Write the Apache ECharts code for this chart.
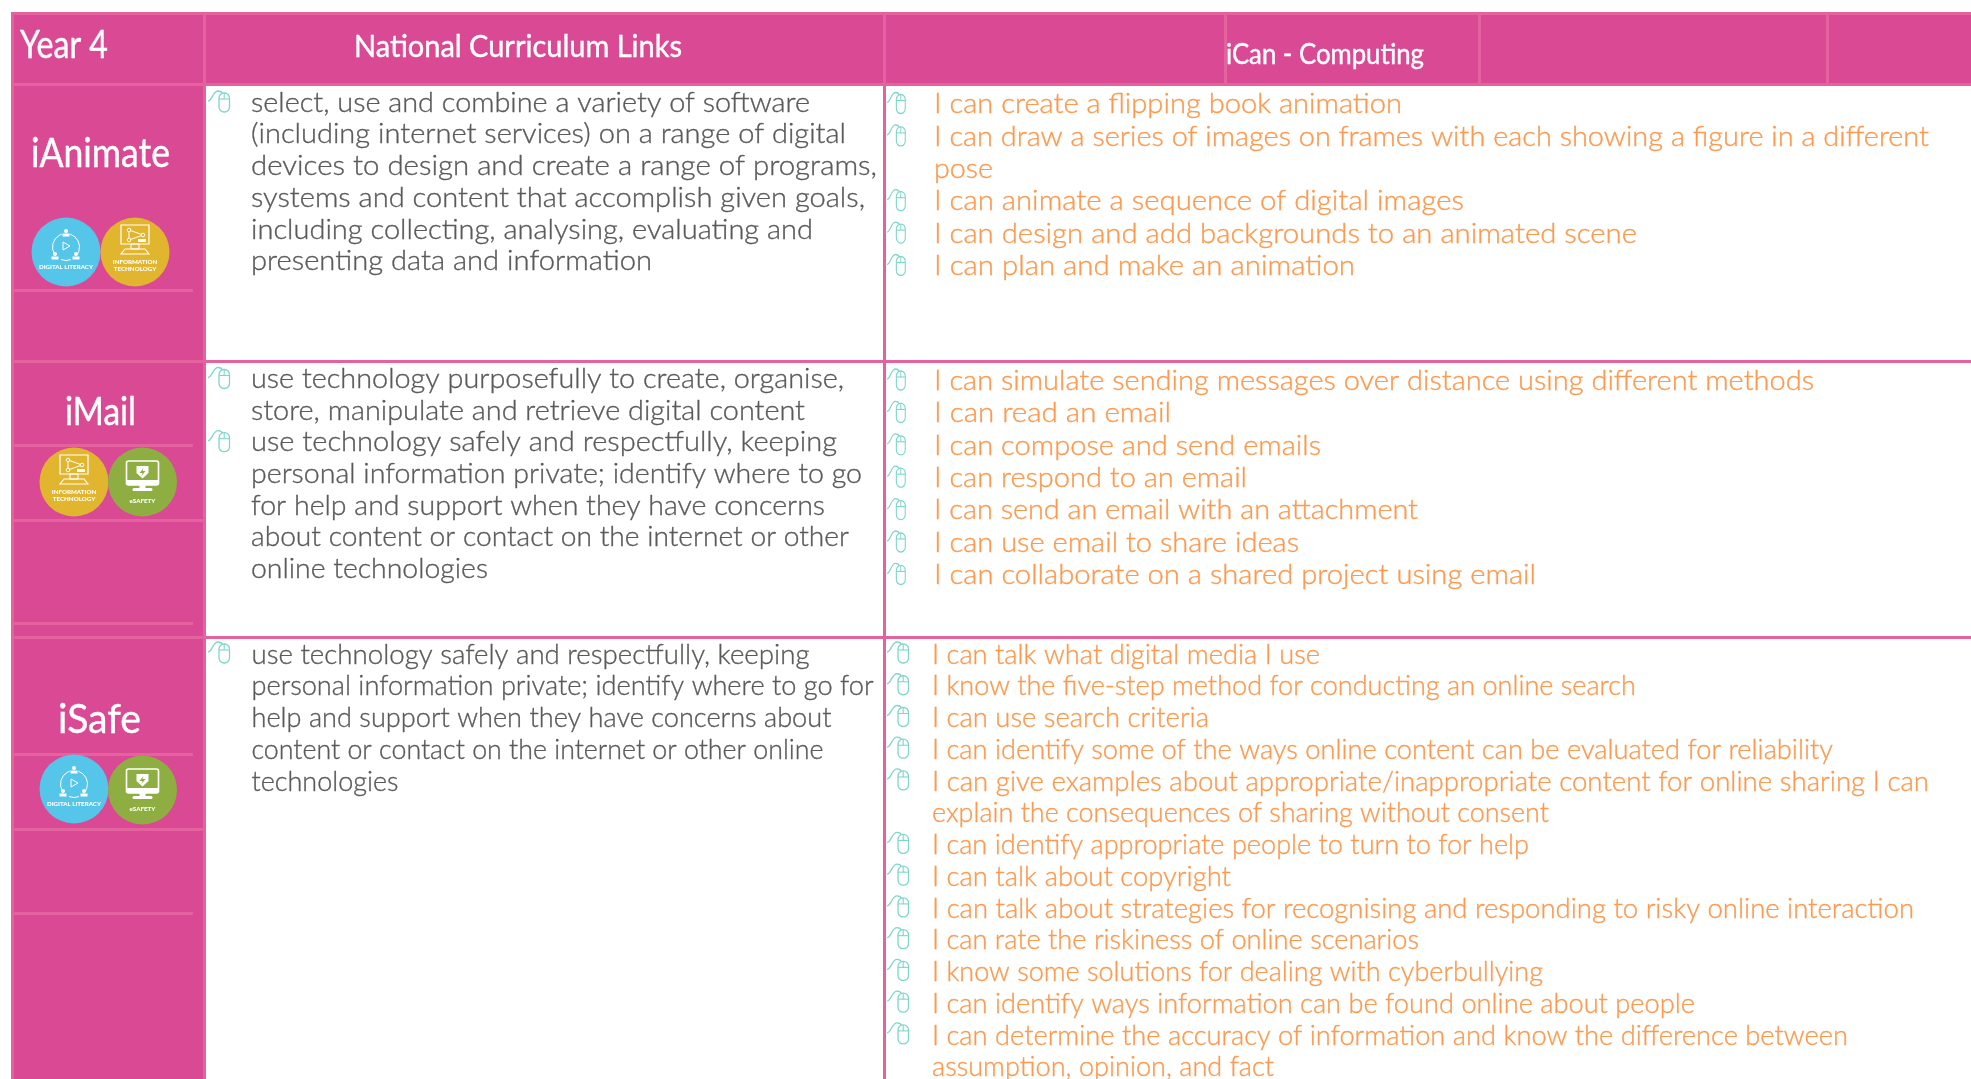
<!DOCTYPE html>
<html><head><meta charset="utf-8">
<style>html,body{margin:0;padding:0;background:#fff}#c{width:1971px;height:1079px}</style>
<script src="https://cdn.jsdelivr.net/npm/echarts@6/dist/echarts.min.js"></script>
</head><body><div id="c"></div>
<script>
// ---- content ----
const yearLabel = 'Year 4';
const headerLinks = 'National Curriculum Links';
const headerCan = 'iCan - Computing';
const units = ['iAnimate', 'iMail', 'iSafe'];
const unitBadges = [['literacy', 'it'], ['it', 'safety'], ['literacy', 'safety']];

const linksAnimate = [[
  'select, use and combine a variety of software',
  '(including internet services) on a range of digital',
  'devices to design and create a range of programs,',
  'systems and content that accomplish given goals,',
  'including collecting, analysing, evaluating and',
  'presenting data and information']];
const linksMail = [[
  'use technology purposefully to create, organise,',
  'store, manipulate and retrieve digital content'], [
  'use technology safely and respectfully, keeping',
  'personal information private; identify where to go',
  'for help and support when they have concerns',
  'about content or contact on the internet or other',
  'online technologies']];
const linksSafe = [[
  'use technology safely and respectfully, keeping',
  'personal information private; identify where to go for',
  'help and support when they have concerns about',
  'content or contact on the internet or other online',
  'technologies']];

const canAnimate = [
  ['I can create a flipping book animation'],
  ['I can draw a series of images on frames with each showing a figure in a different', 'pose'],
  ['I can animate a sequence of digital images'],
  ['I can design and add backgrounds to an animated scene'],
  ['I can plan and make an animation']];
const canMail = [
  ['I can simulate sending messages over distance using different methods'],
  ['I can read an email'],
  ['I can compose and send emails'],
  ['I can respond to an email'],
  ['I can send an email with an attachment'],
  ['I can use email to share ideas'],
  ['I can collaborate on a shared project using email']];
const canSafe = [
  ['I can talk what digital media I use'],
  ['I know the five-step method for conducting an online search'],
  ['I can use search criteria'],
  ['I can identify some of the ways online content can be evaluated for reliability'],
  ['I can give examples about appropriate/inappropriate content for online sharing I can', 'explain the consequences of sharing without consent'],
  ['I can identify appropriate people to turn to for help'],
  ['I can talk about copyright'],
  ['I can talk about strategies for recognising and responding to risky online interaction'],
  ['I can rate the riskiness of online scenarios'],
  ['I know some solutions for dealing with cyberbullying'],
  ['I can identify ways information can be found online about people'],
  ['I can determine the accuracy of information and know the difference between', 'assumption, opinion, and fact']];

// ---- layout / style ----
const W = 1971, H = 1079;
const PINK = '#da4a94', LIGHT = '#e4639f', GREY = '#5a5a5a', ORANGE = '#fb9a50', TEAL = '#7fd6ca';
const BODY_FONT = 'Lato';
const HAND_FONT = '"Liberation Sans Narrow", Lato';
const BODY = '300 27px ' + BODY_FONT;
// rendered width of each text line, so the substitute font keeps the original line lengths
const widthsLinksAnimate = [559, 595, 626, 614, 562, 401];
const widthsLinksMail = [593, 554, 586, 611, 574, 598, 237];
const widthsLinksSafe = [558, 622, 580, 572, 147];
const widthsCanAnimate = [468, 995, 59, 530, 703, 421];
const widthsCanMail = [880, 237, 387, 313, 484, 365, 602];
const widthsCanSafe = [388, 704, 277, 901, 997, 617, 597, 299, 982, 487, 611, 763, 916, 342];

const mctx = document.createElement('canvas').getContext('2d');
function textW(t, font) { mctx.font = font; return mctx.measureText(t).width; }

const marks = [];
function rect(x, y, w, h, fill) { marks.push({type:'rect', shape:{x, y, width:w, height:h}, style:{fill}}); }
function fit(t, x, y, w, font, fill, extra) {
  marks.push({type:'text', x, y, scaleX:w / textW(t, font), originX:0,
    style:Object.assign({text:t, x:0, y:0, font, fill, verticalAlign:'middle', align:'left'}, extra||{})});
}
function mouse(x, y, sx) {
  marks.push({type:'group', x, y, scaleX:sx||1, children:[
    {type:'path', shape:{pathData:'M0,-2 C4,-2 5,-12 10,-12 C12,-12 14,-11 15,-9', x:0, y:-12, width:15, height:10, layout:'center'}, style:{fill:null, stroke:TEAL, lineWidth:1.3}},
    {type:'rect', shape:{x:11, y:-10, width:10.5, height:19, r:5}, style:{fill:'#fff', stroke:TEAL, lineWidth:1.3}},
    {type:'line', shape:{x1:11, y1:-4, x2:21.5, y2:-4}, style:{stroke:TEAL, lineWidth:1.1}},
    {type:'line', shape:{x1:16.2, y1:-10, x2:16.2, y2:-4}, style:{stroke:TEAL, lineWidth:1.1}}
  ]});
}
function column(items, widths, x, iconX, y0, pitch, color, iconScale, iconDy) {
  let y = y0, k = 0;
  items.forEach(lines => {
    mouse(iconX, y + iconDy, iconScale);
    lines.forEach(l => { fit(l, x, y + 1, widths[k++], BODY, color, {stroke:color, lineWidth:0.35}); y += pitch; });
  });
}
function badge(kind, cx, cy) {
  const col = {literacy:'#56c5ea', it:'#e2b52e', safety:'#8fae42'}[kind];
  const kids = [{type:'circle', shape:{cx:0, cy:0, r:34.5}, style:{fill:col}}];
  const white = {fill:'#fff'}, line = {fill:null, stroke:'#fff', lineWidth:1};
  const lab = (t, y) => kids.push({type:'text', x:0, y, style:{text:t, x:0, y:0, font:'900 6.2px Lato', fill:'#fff', align:'center', verticalAlign:'middle'}});
  if (kind === 'literacy') {
    kids.push({type:'arc', shape:{cx:0, cy:-5, r:13.5, startAngle:-1.25, endAngle:0.55}, style:line});
    kids.push({type:'arc', shape:{cx:0, cy:-5, r:13.5, startAngle:2.6, endAngle:4.4}, style:line});
    kids.push({type:'arc', shape:{cx:0, cy:-5, r:13.5, startAngle:1.2, endAngle:1.95}, style:line});
    [[0,-20],[-11,3],[10,3]].forEach(p => {
      kids.push({type:'circle', shape:{cx:p[0], cy:p[1]-1, r:2}, style:white});
      kids.push({type:'rect', shape:{x:p[0]-3.5, y:p[1]+1.5, width:7, height:3}, style:white});
    });
    kids.push({type:'polygon', shape:{points:[[-3,-10],[-3,-2],[4,-6]]}, style:line});
    lab('DIGITAL LITERACY', 15.5);
  } else if (kind === 'it') {
    kids.push({type:'rect', shape:{x:-14, y:-27, width:28, height:19}, style:{fill:null, stroke:'#fff', lineWidth:1.2}});
    kids.push({type:'polyline', shape:{points:[[-6,-22],[-6,-12],[8,-17],[-6,-22]]}, style:line});
    [[-6,-22],[-6,-12],[8,-17]].forEach(p => kids.push({type:'circle', shape:{cx:p[0], cy:p[1], r:1.8}, style:{fill:col, stroke:'#fff', lineWidth:1}}));
    kids.push({type:'rect', shape:{x:3, y:-13, width:8, height:3}, style:white});
    kids.push({type:'rect', shape:{x:-4, y:-8, width:8, height:5}, style:{fill:null, stroke:'#fff', lineWidth:1}});
    kids.push({type:'polygon', shape:{points:[[-10,-3],[10,-3],[14,2],[-14,2]]}, style:{fill:null, stroke:'#fff', lineWidth:1.1}});
    lab('INFORMATION', 10);
    lab('TECHNOLOGY', 17);
  } else {
    kids.push({type:'rect', shape:{x:-16, y:-21, width:32, height:24, r:2}, style:{fill:null, stroke:'#fff', lineWidth:1.6}});
    kids.push({type:'rect', shape:{x:-16, y:-2, width:32, height:5, r:1}, style:white});
    kids.push({type:'rect', shape:{x:-3, y:3, width:6, height:3}, style:white});
    kids.push({type:'rect', shape:{x:-10, y:6, width:20, height:3, r:1.5}, style:white});
    kids.push({type:'polygon', shape:{points:[[-6,-16],[6,-16],[6,-9],[0,-3.5],[-6,-9]]}, style:white});
    kids.push({type:'polygon', shape:{points:[[1,-14],[-3,-9],[0,-9],[-1,-6],[3,-11],[0,-11]]}, style:{fill:col}});
    lab('eSAFETY', 19);
  }
  marks.push({type:'group', x:cx, y:cy, children:kids});
}

// background bands
rect(11, 12, W - 11, 74, PINK);
rect(11, 86, 195, H - 86, PINK);
rect(11, 12, W - 11, 3, LIGHT);
rect(11, 12, 3, H - 12, LIGHT);
rect(11, 83, W - 11, 3, LIGHT);
rect(203, 12, 3, H - 12, LIGHT);
[1224, 1478, 1826].forEach(x => rect(x, 12, 3, 74, LIGHT));
rect(883, 12, 3, H - 12, LIGHT);
rect(11, 360, W - 11, 3, LIGHT);
rect(11, 636, W - 11, 3, LIGHT);
[[289,193],[444,193],[519,203],[622,193],[753,193],[828,203],[912,193]].forEach(r => rect(14, r[0], r[1] - 14, 3, LIGHT));

// headings
const bold = {stroke:'#fff', lineWidth:0.4};
fit(yearLabel, 20, 46, 88, '400 38px ' + HAND_FONT, '#fff', bold);
fit(headerLinks, 354, 47, 328, '400 30px ' + HAND_FONT, '#fff', bold);
fit(headerCan, 1226, 55, 198, '400 28px ' + HAND_FONT, '#fff', bold);
fit(units[0], 31, 154, 139, '400 40px ' + HAND_FONT, '#fff', bold);
fit(units[1], 65, 413, 71, '400 38px ' + HAND_FONT, '#fff', bold);
fit(units[2], 58, 720, 83, '400 40px ' + HAND_FONT, '#fff', bold);

// badges
const badgeSpots = [[[66,252],[135,252]], [[74,482],[142.5,482]], [[74,789],[142.5,790]]];
unitBadges.forEach((b, i) => b.forEach((k, j) => badge(k, badgeSpots[i][j][0], badgeSpots[i][j][1])));

// body columns
column(linksAnimate, widthsLinksAnimate, 251, 208, 102, 31.7, GREY, 1, 1);
column(linksMail, widthsLinksMail, 251, 208, 378.5, 31.6, GREY, 1, 1);
column(linksSafe, widthsLinksSafe, 251.5, 208, 654, 31.7, GREY, 1, 0);
column(canAnimate, widthsCanAnimate, 934, 887, 103.5, 32.4, ORANGE, 0.85, 1);
column(canMail, widthsCanMail, 934, 887, 380, 32.4, ORANGE, 0.85, 1);
column(canSafe, widthsCanSafe, 932, 887, 654, 31.74, ORANGE, 1, 0);

const chart = echarts.init(document.getElementById('c'), null, {renderer:'canvas'});
chart.setOption({
  animation:false,
  backgroundColor:'#ffffff',
  series:[{
    type:'custom',
    coordinateSystem:'none',
    silent:true,
    data:marks.map((_, i) => [i]),
    renderItem:(p) => marks[p.dataIndex]
  }]
});
</script></body></html>
